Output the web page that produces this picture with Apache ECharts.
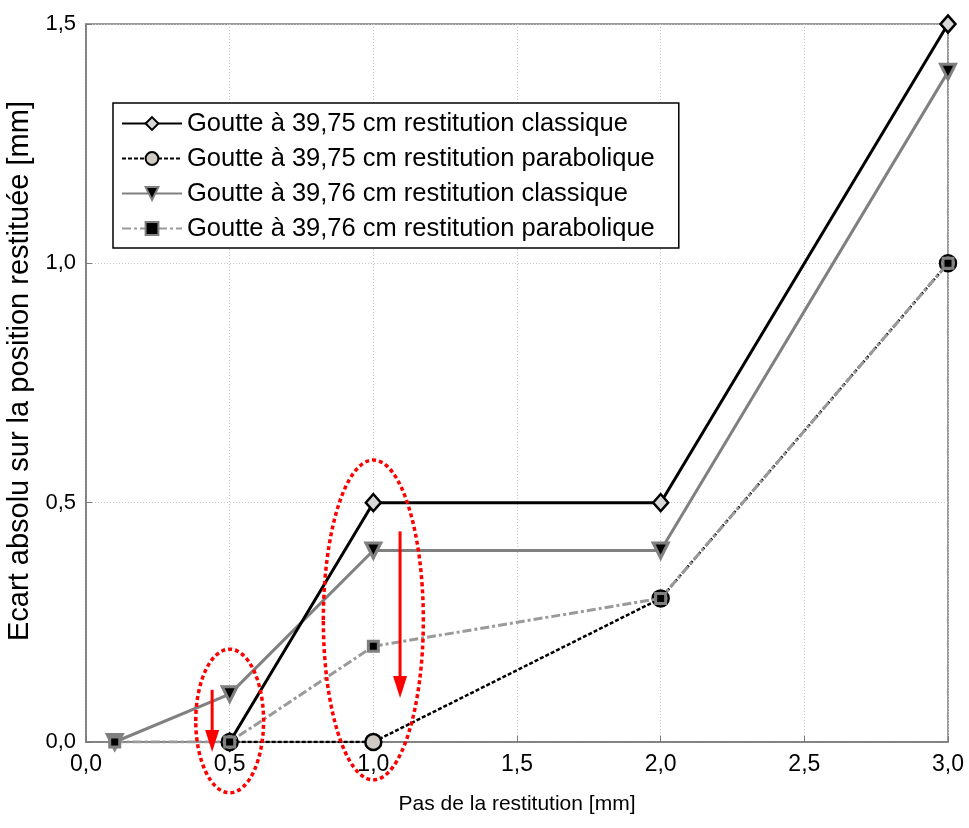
<!DOCTYPE html>
<html><head><meta charset="utf-8">
<script src="https://cdn.jsdelivr.net/npm/echarts@6/dist/echarts.min.js"></script>
<style>html,body{margin:0;padding:0;background:#fff}#c{width:969px;height:828px}</style>
</head><body><div id="c"></div>
<script>
const names = [
  'Goutte à 39,75 cm restitution classique',
  'Goutte à 39,75 cm restitution parabolique',
  'Goutte à 39,76 cm restitution classique',
  'Goutte à 39,76 cm restitution parabolique'
];
const x3975c = [0.5, 1.0, 2.0, 3.0];
const y3975c = [0.0, 0.5, 0.5, 1.5];
const x3975p = [0.5, 1.0, 2.0, 3.0];
const y3975p = [0.0, 0.0, 0.3, 1.0];
const x3976c = [0.1, 0.5, 1.0, 2.0, 3.0];
const y3976c = [0.0, 0.1, 0.4, 0.4, 1.4];
const x3976p = [0.1, 0.5, 1.0, 2.0, 3.0];
const y3976p = [0.0, 0.0, 0.2, 0.3, 1.0];
const xTicks = ['0,0','0,5','1,0','1,5','2,0','2,5','3,0'];
const yTicks = ['0,0','0,5','1,0','1,5'];
// annotations (data coords): ellipses [cx, cy, rx, ry], arrows [x, yFrom, yTo]
const ellipses = [[0.5, 0.044, 0.118, 0.15], [1.0, 0.255, 0.174, 0.334]];
const arrows = [[0.439, 0.109, -0.021], [1.093, 0.44, 0.092]];

const zip = (xs, ys) => xs.map((x, i) => [x, ys[i]]);
const font = 'Liberation Sans, Arial, sans-serif';

const chart = echarts.init(document.getElementById('c'));
const option = {
  animation: false,
  backgroundColor: '#fff',
  grid: {left: 86, right: 21, top: 24, bottom: 86, show: true, borderColor: '#7a7a7a', borderWidth: 1.5,
         containLabel: false, outerBoundsMode: 'none'},
  xAxis: {
    type: 'value', min: 0, max: 3, interval: 0.5,
    name: 'Pas de la restitution [mm]', nameLocation: 'middle', nameGap: 52,
    nameTextStyle: {fontFamily: font, fontSize: 21, color: '#000'},
    axisLine: {show: true, lineStyle: {color: '#7a7a7a', width: 1.5}},
    axisTick: {show: true, inside: true, length: 6, lineStyle: {color: '#7a7a7a'}},
    axisLabel: {formatter: v => xTicks[Math.round(v / 0.5)], fontFamily: font, fontSize: 23, color: '#000', margin: 11},
    splitLine: {show: true, lineStyle: {color: '#c8c8c8', type: [1, 2], width: 1}}
  },
  yAxis: {
    type: 'value', min: 0, max: 1.5, interval: 0.5,
    name: 'Ecart absolu sur la position restituée [mm]', nameLocation: 'middle', nameGap: 46,
    nameTextStyle: {fontFamily: font, fontSize: 29, color: '#000', padding: [0, 0, 0, 24]},
    axisLine: {show: true, lineStyle: {color: '#7a7a7a', width: 1.5}},
    axisTick: {show: true, inside: true, length: 6, lineStyle: {color: '#7a7a7a'}},
    axisLabel: {formatter: v => yTicks[Math.round(v / 0.5)], fontFamily: font, fontSize: 22, color: '#000', margin: 10},
    splitLine: {show: true, lineStyle: {color: '#c8c8c8', type: [1, 2], width: 1}}
  },
  legend: {
    show: true, orient: 'vertical', left: 113, top: 103,
    itemWidth: 60, itemHeight: 16, itemGap: 8,
    padding: [7, 24, 6, 8],
    backgroundColor: '#fff', borderColor: '#000', borderWidth: 1.5,
    textStyle: {fontFamily: font, fontSize: 25.5, lineHeight: 27, color: '#000'},
    data: names
  },
  series: [
    {
      name: names[2], type: 'line', data: zip(x3976c, y3976c), z: 2,
      symbol: 'triangle', symbolRotate: 180, symbolSize: 15,
      lineStyle: {color: '#808080', width: 3},
      itemStyle: {color: '#000', borderColor: '#808080', borderWidth: 3}
    },
    {
      name: names[0], type: 'line', data: zip(x3975c, y3975c), z: 3,
      symbol: 'diamond', symbolSize: [15, 17],
      lineStyle: {color: '#000', width: 3},
      itemStyle: {color: '#d8d8d8', borderColor: '#000', borderWidth: 2.5}
    },
    {
      name: names[1], type: 'line', data: zip(x3975p, y3975p), z: 4,
      symbol: 'circle', symbolSize: 16,
      lineStyle: {color: '#000', width: 2.5, type: [4, 2]},
      itemStyle: {color: '#cfcac3', borderColor: '#000', borderWidth: 2.5}
    },
    {
      name: names[3], type: 'line', data: zip(x3976p, y3976p), z: 5,
      symbol: 'rect', symbolSize: 10,
      lineStyle: {color: '#9a9a9a', width: 3, type: [9, 3, 3, 3]},
      itemStyle: {color: '#000', borderColor: '#808080', borderWidth: 3}
    }
  ]
};
chart.setOption(option);

function drawAnnotations() {
  const g = [];
  ellipses.forEach(([cx, cy, rx, ry]) => {
    const c = chart.convertToPixel({gridIndex: 0}, [cx, cy]);
    const e = chart.convertToPixel({gridIndex: 0}, [cx + rx, cy + ry]);
    g.push({
      type: 'ellipse', z: 100,
      shape: {cx: c[0], cy: c[1], rx: e[0] - c[0], ry: c[1] - e[1]},
      style: {fill: null, stroke: '#ff0000', lineWidth: 3.5, lineDash: [4, 3]}
    });
  });
  arrows.forEach(([x, y0, y1]) => {
    const a = chart.convertToPixel({gridIndex: 0}, [x, y0]);
    const b = chart.convertToPixel({gridIndex: 0}, [x, y1]);
    g.push({type: 'line', z: 100, shape: {x1: a[0], y1: a[1], x2: b[0], y2: b[1] - 18},
      style: {stroke: '#ff0000', lineWidth: 3}});
    g.push({type: 'polygon', z: 100,
      shape: {points: [[b[0] - 7, b[1] - 22], [b[0] + 7, b[1] - 22], [b[0], b[1]]]},
      style: {fill: '#ff0000'}});
  });
  chart.setOption({graphic: g});
}
drawAnnotations();
</script>
</body></html>
